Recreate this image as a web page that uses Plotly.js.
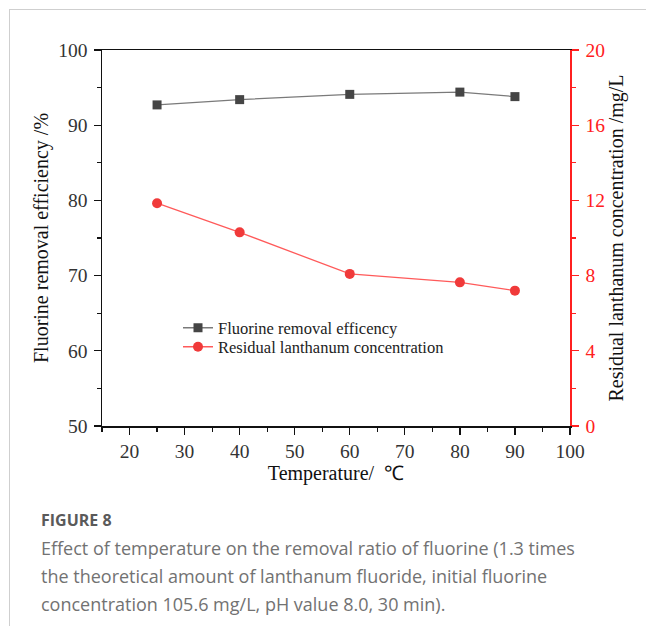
<!DOCTYPE html>
<html>
<head>
<meta charset="utf-8">
<script src="https://cdn.plot.ly/plotly-3.0.1.min.js"></script>
<style>
  html, body { margin: 0; padding: 0; background: #fff; }
  #wrap { position: relative; width: 646px; height: 626px; }
  #frame { position: absolute; left: 9px; top: 9px; right: 0; bottom: 0;
           border-left: 1.5px solid #cfcfcf; border-top: 1.5px solid #cfcfcf; pointer-events: none; }
  #chart { position: absolute; left: 0; top: 0; width: 646px; height: 626px; }
</style>
</head>
<body>
<div id="wrap">
  <div id="frame"></div>
  <div id="chart"></div>
</div>
<script>
// Temperature (°C) at which each run was done
const temperature = [25, 40, 60, 80, 90];
// Fluorine removal efficiency (%)
const removalEfficiency = [92.7, 93.4, 94.1, 94.4, 93.8];
// Residual lanthanum concentration (mg/L)
const residualLanthanum = [11.85, 10.3, 8.09, 7.64, 7.2];

const seriesNames = ['Fluorine removal efficency', 'Residual lanthanum concentration'];
const xTickValues = [20, 30, 40, 50, 60, 70, 80, 90, 100];
const leftTickValues = [50, 60, 70, 80, 90, 100];
const rightTickValues = [0, 4, 8, 12, 16, 20];

const captionHead = 'FIGURE 8';
const captionLines = [
  'Effect of temperature on the removal ratio of fluorine (1.3 times',
  'the theoretical amount of lanthanum fluoride, initial fluorine',
  'concentration 105.6 mg/L, pH value 8.0, 30 min).'
];

const serif = 'Liberation Serif, Times New Roman, serif';
const red = '#ff2020';

const traces = [
  {
    x: temperature, y: removalEfficiency, name: seriesNames[0], legend: 'legend',
    type: 'scatter', mode: 'lines+markers',
    line: { color: '#7a7a7a', width: 1.3 },
    marker: { symbol: 'square', size: 9, color: '#454545' }
  },
  {
    x: temperature, y: residualLanthanum, name: seriesNames[1], yaxis: 'y2', legend: 'legend2',
    type: 'scatter', mode: 'lines+markers',
    line: { color: '#ff5a5a', width: 1.3 },
    marker: { symbol: 'circle', size: 10, color: '#f03a3a' }
  }
];

// Pixel helpers for placing items relative to the plot area
const PL = 102, PR = 570, PT = 50, PB = 426;
const px2x = p => (p - PL) / (PR - PL);
const px2y = p => (PB - p) / (PB - PT);

const annotations = [
  {
    text: '<b>' + captionHead + '</b>', xref: 'paper', yref: 'paper',
    x: px2x(39), y: px2y(520), xanchor: 'left', yanchor: 'middle', showarrow: false,
    font: { family: 'Open Sans, sans-serif', size: 16, color: '#5a5a5a' }
  }
].concat(captionLines.map((t, i) => ({
  text: t, xref: 'paper', yref: 'paper',
  x: px2x(39), y: px2y(548 + i * 28), xanchor: 'left', yanchor: 'middle', showarrow: false,
  font: { family: 'Open Sans, sans-serif', size: 18, color: '#727272' }
})));

const legendStyle = (yPx) => ({
  x: px2x(178), y: px2y(yPx), xanchor: 'left', yanchor: 'middle',
  bgcolor: 'rgba(0,0,0,0)', borderwidth: 0,
  font: { family: serif, size: 16.5, color: '#222' },
  itemwidth: 30
});

const axisFont = { family: serif, size: 20, color: '#111' };
const tickFont = { family: serif, size: 19.5, color: '#333' };

const layout = {
  width: 646, height: 626,
  margin: { l: PL, r: 646 - PR, t: PT, b: 626 - PB, pad: 0 },
  paper_bgcolor: 'rgba(0,0,0,0)',
  plot_bgcolor: 'rgba(0,0,0,0)',
  showlegend: true,
  legend: legendStyle(328),
  legend2: legendStyle(347),
  xaxis: {
    range: [15, 100], tickvals: xTickValues, ticktext: xTickValues.map(String),
    showgrid: false, zeroline: false,
    showline: true, linecolor: '#111', linewidth: 1.5, mirror: true,
    ticks: 'outside', ticklen: 7, tickwidth: 1.3, tickcolor: '#111',
    minor: { dtick: 5, tick0: 15, ticks: 'outside', ticklen: 4, tickwidth: 1.2, tickcolor: '#111', showgrid: false },
    tickfont: tickFont,
    title: { text: 'Temperature/  \u2103', font: axisFont, standoff: 1 }
  },
  yaxis: {
    range: [50, 100], tickvals: leftTickValues, ticktext: leftTickValues.map(String),
    showgrid: false, zeroline: false,
    showline: true, linecolor: '#111', linewidth: 1.5,
    ticks: 'outside', ticklen: 7, tickwidth: 1.3, tickcolor: '#111',
    minor: { dtick: 5, tick0: 50, ticks: 'outside', ticklen: 4, tickwidth: 1.2, tickcolor: '#111', showgrid: false },
    tickfont: tickFont, ticklabelstandoff: 2,
    title: { text: 'Fluorine removal efficiency /%', font: axisFont, standoff: 4 }
  },
  yaxis2: {
    overlaying: 'y', side: 'right',
    range: [0, 20], tickvals: rightTickValues, ticktext: rightTickValues.map(String),
    showgrid: false, zeroline: false,
    showline: true, linecolor: red, linewidth: 1.5,
    ticks: 'outside', ticklen: 7, tickwidth: 1.3, tickcolor: red,
    minor: { dtick: 2, tick0: 0, ticks: 'outside', ticklen: 4, tickwidth: 1.2, tickcolor: red, showgrid: false },
    tickfont: Object.assign({}, tickFont, { color: red }), ticklabelstandoff: 3,
    title: { text: 'Residual lanthanum concentration /mg/L', font: axisFont, standoff: 5 }
  },
  annotations: annotations
};

Plotly.newPlot('chart', traces, layout, { displayModeBar: false, staticPlot: true });
</script>
</body>
</html>
